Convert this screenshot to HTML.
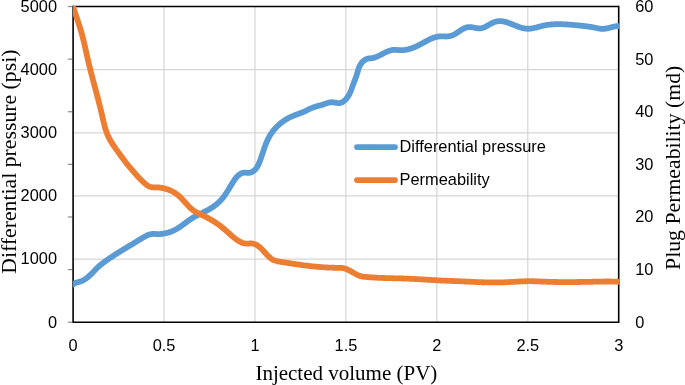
<!DOCTYPE html>
<html><head><meta charset="utf-8"><style>
html,body{margin:0;padding:0;background:#fff;}
svg{display:block;will-change:transform;}
.s{font-family:"Liberation Sans",sans-serif;font-size:16.4px;fill:#000;}
.t{font-family:"Liberation Serif",serif;fill:#000;}
</style></head><body>
<svg width="685" height="385" viewBox="0 0 685 385">

<g stroke="#d6d6d6" stroke-width="1.25"><line x1="73.1" y1="259.06" x2="618.7" y2="259.06"/><line x1="73.1" y1="195.92" x2="618.7" y2="195.92"/><line x1="73.1" y1="132.78" x2="618.7" y2="132.78"/><line x1="73.1" y1="69.64" x2="618.7" y2="69.64"/><line x1="164.03" y1="6.5" x2="164.03" y2="322.2"/><line x1="254.97" y1="6.5" x2="254.97" y2="322.2"/><line x1="345.90" y1="6.5" x2="345.90" y2="322.2"/><line x1="436.83" y1="6.5" x2="436.83" y2="322.2"/><line x1="527.77" y1="6.5" x2="527.77" y2="322.2"/></g>
<g stroke="#8c8c8c" stroke-width="1.2"><line x1="67.8" y1="322.20" x2="72.3" y2="322.20"/><line x1="67.8" y1="269.58" x2="72.3" y2="269.58"/><line x1="67.8" y1="216.97" x2="72.3" y2="216.97"/><line x1="67.8" y1="164.35" x2="72.3" y2="164.35"/><line x1="67.8" y1="111.73" x2="72.3" y2="111.73"/><line x1="67.8" y1="59.12" x2="72.3" y2="59.12"/><line x1="67.8" y1="6.50" x2="72.3" y2="6.50"/></g>
<g stroke="#000" stroke-width="1.6" fill="none">
<line x1="73.1" y1="6.5" x2="618.7" y2="6.5"/>
<line x1="73.1" y1="322.2" x2="618.7" y2="322.2"/>
<line x1="73.1" y1="5.7" x2="73.1" y2="323.0"/>
<line x1="618.7" y1="5.7" x2="618.7" y2="323.0"/>
</g>
<defs><clipPath id="pa"><rect x="72.9" y="6.0" width="546.9" height="316.6"/></clipPath></defs>
<g clip-path="url(#pa)" fill="none" stroke-width="5.8" stroke-linejoin="round" stroke-linecap="round">
<path d="M73.20 284.20 L73.75 283.85 L74.31 283.53 L74.87 283.26 L75.43 283.02 L75.99 282.80 L76.55 282.61 L77.11 282.43 L77.67 282.27 L78.23 282.12 L78.79 281.96 L79.35 281.81 L79.90 281.65 L80.46 281.48 L81.01 281.28 L81.56 281.07 L82.10 280.84 L82.64 280.58 L83.18 280.31 L83.71 280.01 L84.24 279.70 L84.77 279.37 L85.29 279.03 L85.80 278.68 L86.31 278.31 L86.81 277.93 L87.30 277.55 L87.79 277.15 L88.27 276.75 L88.74 276.34 L89.20 275.93 L89.66 275.52 L90.10 275.10 L90.54 274.69 L90.97 274.27 L91.39 273.86 L91.80 273.44 L92.21 273.03 L92.61 272.61 L93.01 272.20 L93.41 271.79 L93.80 271.37 L94.19 270.96 L94.58 270.55 L94.97 270.14 L95.36 269.73 L95.76 269.33 L96.16 268.92 L96.56 268.51 L96.96 268.11 L97.37 267.71 L97.79 267.31 L98.22 266.91 L98.65 266.51 L99.09 266.12 L99.55 265.73 L100.01 265.34 L100.48 264.95 L100.96 264.56 L101.45 264.18 L101.94 263.80 L102.43 263.42 L102.93 263.04 L103.43 262.67 L103.93 262.30 L104.43 261.93 L104.93 261.56 L105.43 261.20 L105.93 260.84 L106.43 260.49 L106.93 260.13 L107.43 259.78 L107.93 259.43 L108.43 259.09 L108.93 258.74 L109.43 258.40 L109.92 258.06 L110.42 257.72 L110.92 257.39 L111.42 257.05 L111.92 256.72 L112.42 256.39 L112.91 256.06 L113.41 255.74 L113.91 255.41 L114.41 255.09 L114.91 254.77 L115.41 254.45 L115.91 254.13 L116.41 253.81 L116.90 253.49 L117.40 253.18 L117.90 252.86 L118.40 252.55 L118.90 252.24 L119.40 251.93 L119.91 251.62 L120.41 251.31 L120.91 251.00 L121.41 250.69 L121.91 250.39 L122.41 250.08 L122.92 249.77 L123.42 249.47 L123.92 249.16 L124.43 248.86 L124.93 248.55 L125.44 248.25 L125.94 247.94 L126.45 247.64 L126.96 247.34 L127.47 247.03 L127.97 246.73 L128.48 246.42 L128.99 246.12 L129.50 245.81 L130.01 245.50 L130.53 245.20 L131.04 244.89 L131.55 244.58 L132.07 244.27 L132.58 243.96 L133.10 243.65 L133.61 243.34 L134.13 243.03 L134.65 242.72 L135.17 242.40 L135.69 242.09 L136.21 241.77 L136.73 241.45 L137.25 241.13 L137.78 240.81 L138.30 240.49 L138.83 240.16 L139.35 239.84 L139.88 239.51 L140.41 239.18 L140.94 238.85 L141.47 238.52 L142.01 238.19 L142.54 237.87 L143.08 237.55 L143.61 237.23 L144.15 236.92 L144.69 236.62 L145.23 236.33 L145.78 236.05 L146.32 235.78 L146.87 235.52 L147.41 235.28 L147.96 235.05 L148.52 234.84 L149.07 234.65 L149.62 234.48 L150.18 234.32 L150.74 234.19 L151.30 234.09 L151.87 234.01 L152.43 233.95 L153.00 233.92 L153.57 233.91 L154.14 233.91 L154.72 233.94 L155.30 233.96 L155.88 234.00 L156.46 234.03 L157.04 234.06 L157.63 234.08 L158.22 234.09 L158.81 234.08 L159.41 234.07 L160.01 234.04 L160.60 234.00 L161.20 233.95 L161.80 233.88 L162.40 233.81 L163.00 233.72 L163.60 233.63 L164.20 233.52 L164.80 233.41 L165.40 233.28 L166.00 233.14 L166.60 233.00 L167.19 232.84 L167.78 232.68 L168.37 232.51 L168.96 232.32 L169.54 232.13 L170.12 231.93 L170.70 231.73 L171.27 231.51 L171.84 231.29 L172.41 231.05 L172.96 230.81 L173.52 230.56 L174.07 230.30 L174.61 230.04 L175.15 229.76 L175.68 229.48 L176.21 229.19 L176.73 228.89 L177.25 228.59 L177.76 228.28 L178.27 227.96 L178.78 227.64 L179.28 227.32 L179.78 226.99 L180.28 226.65 L180.77 226.31 L181.26 225.97 L181.75 225.62 L182.24 225.28 L182.72 224.93 L183.20 224.57 L183.69 224.22 L184.17 223.87 L184.65 223.51 L185.13 223.15 L185.61 222.80 L186.09 222.44 L186.57 222.09 L187.05 221.73 L187.53 221.38 L188.01 221.03 L188.50 220.68 L188.98 220.33 L189.47 219.99 L189.96 219.65 L190.45 219.32 L190.95 218.98 L191.45 218.66 L191.95 218.33 L192.45 218.02 L192.96 217.71 L193.47 217.40 L193.98 217.10 L194.50 216.81 L195.02 216.52 L195.55 216.23 L196.07 215.95 L196.60 215.67 L197.13 215.40 L197.67 215.12 L198.20 214.85 L198.74 214.59 L199.28 214.32 L199.81 214.06 L200.35 213.79 L200.89 213.53 L201.43 213.27 L201.98 213.01 L202.52 212.74 L203.06 212.48 L203.60 212.22 L204.14 211.95 L204.68 211.69 L205.21 211.42 L205.75 211.14 L206.28 210.87 L206.82 210.59 L207.35 210.31 L207.88 210.03 L208.40 209.74 L208.93 209.44 L209.45 209.15 L209.97 208.84 L210.48 208.53 L210.99 208.22 L211.50 207.90 L212.01 207.57 L212.51 207.24 L213.01 206.90 L213.50 206.56 L213.99 206.21 L214.47 205.85 L214.95 205.49 L215.43 205.13 L215.90 204.76 L216.36 204.38 L216.82 204.00 L217.28 203.61 L217.73 203.22 L218.17 202.82 L218.61 202.41 L219.05 202.00 L219.47 201.59 L219.90 201.17 L220.31 200.74 L220.72 200.31 L221.12 199.87 L221.52 199.43 L221.91 198.98 L222.30 198.53 L222.67 198.07 L223.04 197.60 L223.41 197.13 L223.77 196.66 L224.13 196.18 L224.48 195.70 L224.83 195.22 L225.17 194.73 L225.51 194.24 L225.84 193.74 L226.18 193.24 L226.50 192.74 L226.83 192.23 L227.15 191.72 L227.48 191.21 L227.79 190.70 L228.11 190.19 L228.43 189.67 L228.74 189.16 L229.06 188.64 L229.37 188.12 L229.68 187.60 L229.99 187.08 L230.30 186.57 L230.61 186.05 L230.92 185.53 L231.23 185.02 L231.55 184.50 L231.86 183.99 L232.17 183.48 L232.49 182.97 L232.80 182.47 L233.12 181.97 L233.44 181.47 L233.76 180.98 L234.09 180.49 L234.41 180.00 L234.75 179.52 L235.08 179.04 L235.43 178.57 L235.79 178.11 L236.16 177.65 L236.54 177.20 L236.94 176.75 L237.36 176.31 L237.79 175.88 L238.25 175.45 L238.73 175.04 L239.23 174.64 L239.74 174.27 L240.27 173.92 L240.82 173.60 L241.38 173.32 L241.95 173.09 L242.53 172.90 L243.12 172.77 L243.72 172.70 L244.32 172.67 L244.92 172.68 L245.53 172.72 L246.13 172.76 L246.74 172.81 L247.34 172.85 L247.93 172.87 L248.52 172.85 L249.10 172.80 L249.68 172.72 L250.24 172.60 L250.78 172.45 L251.32 172.26 L251.84 172.05 L252.33 171.80 L252.82 171.53 L253.28 171.23 L253.72 170.91 L254.15 170.56 L254.57 170.19 L254.96 169.79 L255.35 169.38 L255.72 168.94 L256.07 168.49 L256.41 168.02 L256.74 167.53 L257.06 167.03 L257.37 166.51 L257.67 165.98 L257.95 165.44 L258.23 164.89 L258.50 164.33 L258.76 163.77 L259.01 163.19 L259.25 162.61 L259.49 162.03 L259.73 161.44 L259.95 160.85 L260.18 160.26 L260.39 159.68 L260.61 159.09 L260.82 158.50 L261.03 157.91 L261.23 157.33 L261.44 156.75 L261.64 156.16 L261.84 155.58 L262.03 155.00 L262.23 154.42 L262.42 153.84 L262.61 153.27 L262.81 152.69 L263.00 152.12 L263.19 151.55 L263.38 150.98 L263.57 150.41 L263.76 149.84 L263.95 149.27 L264.15 148.71 L264.34 148.15 L264.54 147.59 L264.73 147.03 L264.93 146.47 L265.14 145.92 L265.34 145.37 L265.55 144.82 L265.76 144.27 L265.97 143.72 L266.19 143.18 L266.41 142.64 L266.64 142.10 L266.87 141.56 L267.10 141.02 L267.34 140.49 L267.58 139.96 L267.83 139.43 L268.09 138.91 L268.35 138.39 L268.62 137.87 L268.89 137.35 L269.17 136.84 L269.46 136.32 L269.75 135.82 L270.06 135.31 L270.37 134.81 L270.68 134.31 L271.01 133.81 L271.34 133.32 L271.69 132.82 L272.04 132.34 L272.39 131.85 L272.76 131.37 L273.13 130.90 L273.51 130.42 L273.89 129.96 L274.28 129.49 L274.68 129.03 L275.09 128.57 L275.50 128.12 L275.91 127.68 L276.34 127.23 L276.77 126.80 L277.20 126.36 L277.64 125.94 L278.08 125.52 L278.54 125.10 L278.99 124.69 L279.45 124.28 L279.92 123.88 L280.38 123.49 L280.86 123.10 L281.34 122.72 L281.82 122.34 L282.31 121.97 L282.80 121.61 L283.29 121.25 L283.79 120.90 L284.29 120.55 L284.79 120.22 L285.30 119.89 L285.81 119.57 L286.32 119.25 L286.83 118.94 L287.35 118.64 L287.87 118.35 L288.39 118.06 L288.92 117.79 L289.44 117.52 L289.97 117.25 L290.50 117.00 L291.03 116.76 L291.56 116.52 L292.09 116.29 L292.63 116.06 L293.16 115.84 L293.70 115.62 L294.24 115.41 L294.78 115.20 L295.32 115.00 L295.86 114.79 L296.40 114.59 L296.95 114.39 L297.49 114.19 L298.04 113.99 L298.59 113.79 L299.14 113.59 L299.69 113.38 L300.24 113.17 L300.79 112.96 L301.34 112.75 L301.89 112.53 L302.45 112.30 L303.00 112.07 L303.56 111.84 L304.12 111.60 L304.67 111.34 L305.23 111.09 L305.79 110.82 L306.35 110.55 L306.91 110.27 L307.47 109.99 L308.03 109.72 L308.60 109.44 L309.16 109.17 L309.72 108.90 L310.28 108.63 L310.85 108.38 L311.41 108.14 L311.98 107.91 L312.54 107.68 L313.11 107.47 L313.67 107.27 L314.24 107.08 L314.81 106.90 L315.37 106.72 L315.94 106.55 L316.51 106.39 L317.08 106.22 L317.65 106.07 L318.22 105.91 L318.79 105.75 L319.36 105.60 L319.93 105.44 L320.51 105.28 L321.08 105.12 L321.66 104.96 L322.23 104.79 L322.81 104.62 L323.39 104.44 L323.96 104.25 L324.54 104.05 L325.12 103.85 L325.71 103.64 L326.29 103.43 L326.87 103.22 L327.46 103.03 L328.04 102.84 L328.63 102.67 L329.22 102.53 L329.81 102.41 L330.40 102.31 L330.99 102.26 L331.58 102.24 L332.17 102.26 L332.77 102.30 L333.36 102.37 L333.96 102.46 L334.55 102.56 L335.14 102.67 L335.73 102.77 L336.31 102.87 L336.89 102.96 L337.47 103.04 L338.04 103.09 L338.61 103.11 L339.17 103.10 L339.72 103.05 L340.27 102.95 L340.81 102.81 L341.34 102.62 L341.87 102.40 L342.38 102.13 L342.89 101.83 L343.38 101.50 L343.87 101.14 L344.34 100.75 L344.80 100.34 L345.25 99.90 L345.69 99.45 L346.11 98.97 L346.52 98.49 L346.91 97.99 L347.29 97.48 L347.65 96.96 L348.00 96.44 L348.33 95.92 L348.65 95.40 L348.95 94.87 L349.23 94.34 L349.51 93.81 L349.77 93.27 L350.03 92.74 L350.27 92.20 L350.50 91.66 L350.73 91.11 L350.95 90.57 L351.16 90.02 L351.37 89.47 L351.58 88.92 L351.78 88.37 L351.97 87.81 L352.17 87.26 L352.37 86.70 L352.56 86.14 L352.76 85.58 L352.96 85.02 L353.16 84.46 L353.37 83.89 L353.58 83.33 L353.79 82.76 L354.01 82.19 L354.23 81.62 L354.45 81.06 L354.67 80.49 L354.89 79.92 L355.11 79.35 L355.32 78.77 L355.54 78.20 L355.75 77.63 L355.95 77.06 L356.16 76.49 L356.35 75.92 L356.55 75.35 L356.73 74.78 L356.91 74.21 L357.08 73.64 L357.25 73.07 L357.42 72.50 L357.58 71.93 L357.75 71.37 L357.92 70.80 L358.09 70.24 L358.27 69.67 L358.46 69.11 L358.65 68.55 L358.86 67.99 L359.08 67.44 L359.32 66.88 L359.57 66.33 L359.84 65.78 L360.12 65.24 L360.42 64.71 L360.74 64.19 L361.07 63.68 L361.42 63.19 L361.79 62.70 L362.18 62.24 L362.58 61.79 L363.00 61.36 L363.45 60.96 L363.91 60.58 L364.39 60.22 L364.89 59.89 L365.41 59.58 L365.94 59.31 L366.49 59.06 L367.04 58.85 L367.60 58.68 L368.15 58.54 L368.71 58.43 L369.27 58.36 L369.82 58.31 L370.38 58.27 L370.93 58.24 L371.48 58.20 L372.04 58.14 L372.59 58.06 L373.14 57.95 L373.69 57.82 L374.24 57.66 L374.79 57.47 L375.34 57.27 L375.89 57.06 L376.45 56.83 L377.00 56.59 L377.55 56.34 L378.11 56.09 L378.66 55.84 L379.22 55.57 L379.78 55.30 L380.34 55.03 L380.90 54.75 L381.47 54.47 L382.04 54.18 L382.60 53.89 L383.18 53.60 L383.75 53.30 L384.32 53.01 L384.90 52.72 L385.48 52.44 L386.06 52.16 L386.64 51.89 L387.22 51.63 L387.80 51.38 L388.39 51.14 L388.97 50.92 L389.56 50.71 L390.14 50.52 L390.73 50.36 L391.32 50.21 L391.90 50.08 L392.49 49.98 L393.08 49.90 L393.67 49.85 L394.25 49.83 L394.84 49.82 L395.42 49.84 L396.01 49.86 L396.59 49.90 L397.18 49.95 L397.76 50.00 L398.34 50.05 L398.92 50.09 L399.50 50.14 L400.08 50.17 L400.65 50.19 L401.23 50.19 L401.80 50.19 L402.37 50.17 L402.94 50.14 L403.51 50.10 L404.07 50.04 L404.64 49.98 L405.20 49.90 L405.77 49.81 L406.33 49.72 L406.89 49.61 L407.45 49.49 L408.01 49.36 L408.56 49.22 L409.12 49.07 L409.68 48.91 L410.23 48.74 L410.78 48.57 L411.34 48.38 L411.89 48.19 L412.44 47.99 L412.99 47.78 L413.54 47.57 L414.10 47.34 L414.64 47.11 L415.19 46.88 L415.74 46.63 L416.29 46.38 L416.84 46.13 L417.39 45.86 L417.94 45.60 L418.49 45.32 L419.03 45.05 L419.58 44.76 L420.13 44.47 L420.68 44.18 L421.23 43.89 L421.77 43.59 L422.32 43.29 L422.87 42.99 L423.42 42.69 L423.97 42.38 L424.52 42.08 L425.07 41.78 L425.62 41.48 L426.17 41.18 L426.73 40.89 L427.28 40.60 L427.83 40.31 L428.39 40.03 L428.94 39.75 L429.50 39.48 L430.06 39.22 L430.61 38.97 L431.17 38.72 L431.73 38.48 L432.29 38.25 L432.86 38.03 L433.42 37.82 L433.99 37.62 L434.55 37.43 L435.12 37.26 L435.69 37.10 L436.26 36.95 L436.83 36.82 L437.40 36.70 L437.98 36.60 L438.55 36.51 L439.13 36.44 L439.71 36.39 L440.29 36.36 L440.88 36.34 L441.46 36.34 L442.05 36.35 L442.64 36.37 L443.22 36.40 L443.81 36.42 L444.40 36.45 L444.98 36.47 L445.57 36.48 L446.15 36.48 L446.73 36.47 L447.31 36.44 L447.89 36.39 L448.47 36.32 L449.04 36.23 L449.61 36.13 L450.18 36.00 L450.74 35.85 L451.30 35.68 L451.85 35.50 L452.40 35.29 L452.94 35.07 L453.48 34.82 L454.01 34.56 L454.54 34.28 L455.06 33.99 L455.58 33.68 L456.10 33.36 L456.61 33.03 L457.13 32.69 L457.64 32.35 L458.16 32.00 L458.68 31.65 L459.20 31.29 L459.73 30.94 L460.26 30.58 L460.80 30.23 L461.34 29.89 L461.89 29.56 L462.44 29.23 L462.99 28.92 L463.55 28.63 L464.11 28.35 L464.68 28.10 L465.24 27.86 L465.81 27.66 L466.39 27.48 L466.96 27.33 L467.54 27.21 L468.11 27.13 L468.69 27.08 L469.27 27.06 L469.85 27.07 L470.43 27.10 L471.02 27.15 L471.60 27.22 L472.18 27.30 L472.76 27.40 L473.33 27.50 L473.91 27.61 L474.49 27.73 L475.06 27.84 L475.63 27.95 L476.20 28.06 L476.77 28.15 L477.34 28.24 L477.90 28.30 L478.47 28.35 L479.03 28.38 L479.60 28.38 L480.16 28.35 L480.72 28.29 L481.29 28.20 L481.85 28.08 L482.42 27.92 L482.98 27.74 L483.54 27.54 L484.11 27.31 L484.67 27.06 L485.24 26.80 L485.80 26.52 L486.37 26.23 L486.93 25.93 L487.50 25.62 L488.06 25.30 L488.63 24.98 L489.19 24.66 L489.76 24.34 L490.32 24.03 L490.89 23.72 L491.45 23.42 L492.02 23.13 L492.58 22.85 L493.15 22.59 L493.72 22.35 L494.28 22.12 L494.85 21.92 L495.42 21.74 L495.98 21.59 L496.55 21.46 L497.12 21.35 L497.68 21.26 L498.25 21.20 L498.82 21.15 L499.39 21.13 L499.96 21.13 L500.52 21.14 L501.09 21.17 L501.66 21.22 L502.23 21.29 L502.80 21.37 L503.37 21.47 L503.94 21.58 L504.51 21.70 L505.08 21.84 L505.65 21.99 L506.22 22.15 L506.79 22.32 L507.36 22.51 L507.93 22.70 L508.50 22.89 L509.07 23.10 L509.65 23.31 L510.22 23.53 L510.79 23.75 L511.36 23.97 L511.94 24.20 L512.51 24.43 L513.08 24.67 L513.66 24.90 L514.23 25.14 L514.81 25.37 L515.38 25.60 L515.96 25.83 L516.53 26.06 L517.11 26.28 L517.68 26.50 L518.26 26.71 L518.84 26.92 L519.41 27.12 L519.99 27.31 L520.57 27.50 L521.15 27.67 L521.72 27.84 L522.30 27.99 L522.88 28.13 L523.46 28.26 L524.04 28.38 L524.62 28.48 L525.20 28.57 L525.78 28.64 L526.36 28.69 L526.95 28.73 L527.53 28.75 L528.11 28.76 L528.69 28.74 L529.28 28.71 L529.86 28.67 L530.44 28.61 L531.03 28.54 L531.61 28.46 L532.20 28.37 L532.78 28.26 L533.37 28.15 L533.95 28.03 L534.54 27.90 L535.13 27.76 L535.71 27.62 L536.30 27.47 L536.89 27.32 L537.48 27.17 L538.06 27.01 L538.65 26.86 L539.24 26.70 L539.83 26.54 L540.42 26.39 L541.01 26.23 L541.60 26.08 L542.19 25.93 L542.78 25.79 L543.37 25.66 L543.96 25.53 L544.55 25.40 L545.14 25.29 L545.73 25.18 L546.33 25.08 L546.92 24.99 L547.51 24.90 L548.10 24.81 L548.69 24.74 L549.29 24.67 L549.88 24.60 L550.47 24.54 L551.07 24.49 L551.66 24.44 L552.26 24.39 L552.85 24.35 L553.44 24.32 L554.04 24.28 L554.63 24.26 L555.23 24.23 L555.82 24.21 L556.42 24.20 L557.01 24.19 L557.61 24.18 L558.20 24.17 L558.80 24.17 L559.39 24.17 L559.99 24.18 L560.59 24.19 L561.18 24.20 L561.78 24.21 L562.38 24.23 L562.97 24.25 L563.57 24.28 L564.16 24.30 L564.76 24.33 L565.36 24.36 L565.96 24.39 L566.55 24.43 L567.15 24.46 L567.75 24.50 L568.34 24.54 L568.94 24.59 L569.54 24.63 L570.14 24.68 L570.73 24.73 L571.33 24.77 L571.93 24.83 L572.53 24.88 L573.12 24.93 L573.72 24.98 L574.32 25.04 L574.92 25.09 L575.51 25.15 L576.11 25.21 L576.71 25.26 L577.31 25.32 L577.90 25.38 L578.50 25.44 L579.10 25.50 L579.69 25.56 L580.29 25.62 L580.89 25.68 L581.49 25.74 L582.08 25.80 L582.68 25.87 L583.28 25.93 L583.88 26.00 L584.47 26.07 L585.07 26.14 L585.67 26.21 L586.26 26.29 L586.86 26.37 L587.46 26.45 L588.05 26.53 L588.65 26.61 L589.25 26.70 L589.84 26.79 L590.44 26.88 L591.03 26.98 L591.63 27.08 L592.23 27.18 L592.82 27.29 L593.42 27.40 L594.01 27.51 L594.61 27.63 L595.20 27.75 L595.80 27.88 L596.39 28.01 L596.99 28.13 L597.58 28.25 L598.18 28.37 L598.77 28.48 L599.36 28.58 L599.96 28.67 L600.55 28.75 L601.14 28.81 L601.74 28.85 L602.33 28.87 L602.92 28.87 L603.51 28.85 L604.11 28.81 L604.70 28.75 L605.29 28.67 L605.88 28.58 L606.47 28.47 L607.06 28.35 L607.65 28.22 L608.25 28.08 L608.84 27.93 L609.43 27.78 L610.01 27.63 L610.60 27.47 L611.19 27.32 L611.78 27.16 L612.37 27.01 L612.96 26.87 L613.55 26.73 L614.14 26.59 L614.72 26.47 L615.31 26.36 L615.90 26.26 L616.48 26.18 L617.07 26.12 L617.65 26.07 L618.24 26.04 L618.83 26.04 L619.41 26.06 L619.99 26.10" stroke="#5b9bd5"/>
<path d="M73.00 6.30 L73.17 6.87 L73.35 7.44 L73.53 8.01 L73.71 8.58 L73.89 9.15 L74.07 9.72 L74.26 10.29 L74.44 10.86 L74.63 11.43 L74.82 12.00 L75.01 12.57 L75.20 13.14 L75.39 13.71 L75.58 14.28 L75.77 14.85 L75.96 15.43 L76.15 16.00 L76.34 16.57 L76.54 17.14 L76.73 17.72 L76.92 18.29 L77.11 18.86 L77.31 19.43 L77.50 20.01 L77.69 20.58 L77.88 21.15 L78.07 21.73 L78.26 22.30 L78.45 22.88 L78.64 23.45 L78.83 24.02 L79.01 24.60 L79.20 25.17 L79.38 25.75 L79.57 26.32 L79.75 26.90 L79.93 27.47 L80.11 28.05 L80.29 28.62 L80.46 29.20 L80.64 29.77 L80.81 30.35 L80.98 30.93 L81.14 31.50 L81.31 32.08 L81.47 32.65 L81.64 33.23 L81.80 33.81 L81.95 34.38 L82.11 34.96 L82.26 35.54 L82.42 36.12 L82.57 36.69 L82.72 37.27 L82.86 37.85 L83.01 38.43 L83.15 39.00 L83.30 39.58 L83.44 40.16 L83.58 40.74 L83.72 41.32 L83.86 41.89 L84.00 42.47 L84.13 43.05 L84.27 43.63 L84.40 44.21 L84.54 44.79 L84.67 45.37 L84.80 45.95 L84.93 46.52 L85.07 47.10 L85.20 47.68 L85.33 48.26 L85.46 48.84 L85.59 49.42 L85.71 50.00 L85.84 50.58 L85.97 51.16 L86.10 51.74 L86.23 52.32 L86.36 52.90 L86.49 53.48 L86.62 54.06 L86.75 54.64 L86.88 55.22 L87.01 55.81 L87.14 56.39 L87.27 56.97 L87.40 57.55 L87.53 58.13 L87.66 58.71 L87.80 59.29 L87.93 59.87 L88.06 60.45 L88.20 61.04 L88.34 61.62 L88.47 62.20 L88.61 62.78 L88.75 63.36 L88.89 63.94 L89.03 64.53 L89.17 65.11 L89.31 65.69 L89.46 66.27 L89.60 66.85 L89.75 67.44 L89.89 68.02 L90.04 68.60 L90.18 69.18 L90.33 69.77 L90.48 70.35 L90.62 70.93 L90.77 71.51 L90.92 72.10 L91.07 72.68 L91.22 73.26 L91.37 73.85 L91.52 74.43 L91.67 75.01 L91.83 75.59 L91.98 76.18 L92.13 76.76 L92.28 77.34 L92.44 77.93 L92.59 78.51 L92.75 79.09 L92.90 79.68 L93.05 80.26 L93.21 80.84 L93.36 81.43 L93.52 82.01 L93.67 82.59 L93.83 83.18 L93.99 83.76 L94.14 84.34 L94.30 84.93 L94.45 85.51 L94.61 86.09 L94.77 86.68 L94.92 87.26 L95.08 87.84 L95.23 88.43 L95.39 89.01 L95.55 89.60 L95.70 90.18 L95.86 90.76 L96.01 91.35 L96.17 91.93 L96.32 92.51 L96.48 93.10 L96.63 93.68 L96.79 94.27 L96.94 94.85 L97.10 95.43 L97.25 96.02 L97.41 96.60 L97.56 97.18 L97.71 97.77 L97.87 98.35 L98.02 98.94 L98.17 99.52 L98.32 100.10 L98.47 100.69 L98.62 101.27 L98.78 101.85 L98.93 102.44 L99.07 103.02 L99.22 103.61 L99.37 104.19 L99.52 104.77 L99.67 105.36 L99.81 105.94 L99.96 106.52 L100.10 107.11 L100.25 107.69 L100.39 108.27 L100.54 108.86 L100.68 109.44 L100.82 110.02 L100.96 110.61 L101.10 111.19 L101.24 111.78 L101.38 112.36 L101.52 112.94 L101.66 113.53 L101.79 114.11 L101.93 114.69 L102.06 115.28 L102.19 115.86 L102.33 116.44 L102.46 117.02 L102.59 117.61 L102.72 118.19 L102.86 118.77 L102.99 119.35 L103.12 119.93 L103.26 120.51 L103.39 121.09 L103.53 121.67 L103.67 122.25 L103.81 122.83 L103.95 123.41 L104.09 123.98 L104.24 124.56 L104.38 125.13 L104.54 125.70 L104.69 126.28 L104.85 126.85 L105.01 127.42 L105.17 127.98 L105.34 128.55 L105.51 129.12 L105.69 129.68 L105.87 130.24 L106.06 130.80 L106.25 131.36 L106.44 131.92 L106.64 132.47 L106.85 133.03 L107.06 133.58 L107.28 134.13 L107.50 134.67 L107.74 135.22 L107.97 135.76 L108.22 136.30 L108.47 136.84 L108.73 137.38 L108.99 137.91 L109.26 138.44 L109.54 138.97 L109.83 139.50 L110.12 140.02 L110.41 140.54 L110.71 141.07 L111.02 141.58 L111.33 142.10 L111.64 142.62 L111.96 143.13 L112.29 143.64 L112.62 144.15 L112.95 144.66 L113.28 145.17 L113.62 145.67 L113.96 146.17 L114.31 146.68 L114.65 147.18 L115.00 147.68 L115.35 148.17 L115.71 148.67 L116.06 149.17 L116.42 149.66 L116.77 150.15 L117.13 150.65 L117.49 151.14 L117.84 151.63 L118.20 152.12 L118.56 152.60 L118.92 153.09 L119.27 153.58 L119.63 154.06 L119.98 154.55 L120.34 155.03 L120.69 155.52 L121.04 156.00 L121.39 156.48 L121.74 156.96 L122.09 157.44 L122.45 157.92 L122.80 158.40 L123.15 158.88 L123.50 159.36 L123.85 159.84 L124.21 160.31 L124.57 160.79 L124.92 161.26 L125.28 161.73 L125.64 162.21 L126.01 162.68 L126.37 163.15 L126.74 163.62 L127.12 164.08 L127.49 164.55 L127.87 165.02 L128.25 165.48 L128.64 165.95 L129.02 166.41 L129.42 166.87 L129.81 167.33 L130.20 167.79 L130.60 168.25 L131.00 168.71 L131.39 169.17 L131.79 169.62 L132.19 170.08 L132.58 170.53 L132.97 170.98 L133.36 171.43 L133.75 171.88 L134.14 172.33 L134.53 172.78 L134.92 173.22 L135.30 173.67 L135.69 174.11 L136.08 174.55 L136.47 174.99 L136.86 175.43 L137.25 175.87 L137.65 176.30 L138.04 176.74 L138.44 177.17 L138.84 177.60 L139.25 178.03 L139.65 178.46 L140.07 178.89 L140.48 179.32 L140.90 179.74 L141.33 180.17 L141.76 180.59 L142.20 181.01 L142.64 181.43 L143.09 181.84 L143.54 182.26 L144.00 182.67 L144.47 183.08 L144.95 183.49 L145.43 183.90 L145.92 184.30 L146.42 184.69 L146.92 185.07 L147.43 185.43 L147.95 185.77 L148.47 186.08 L149.00 186.37 L149.54 186.62 L150.08 186.84 L150.62 187.02 L151.17 187.15 L151.72 187.25 L152.28 187.31 L152.84 187.35 L153.41 187.36 L153.98 187.36 L154.55 187.35 L155.13 187.34 L155.70 187.32 L156.28 187.32 L156.87 187.33 L157.45 187.35 L158.04 187.39 L158.62 187.44 L159.21 187.50 L159.80 187.57 L160.39 187.66 L160.98 187.75 L161.57 187.85 L162.16 187.96 L162.75 188.08 L163.34 188.21 L163.93 188.35 L164.51 188.49 L165.10 188.65 L165.68 188.81 L166.26 188.98 L166.84 189.17 L167.42 189.36 L167.99 189.56 L168.56 189.77 L169.13 189.98 L169.69 190.21 L170.25 190.45 L170.80 190.69 L171.36 190.95 L171.90 191.22 L172.44 191.49 L172.98 191.77 L173.51 192.07 L174.04 192.37 L174.56 192.68 L175.07 193.01 L175.58 193.34 L176.08 193.68 L176.57 194.03 L177.06 194.39 L177.54 194.76 L178.01 195.15 L178.47 195.54 L178.93 195.93 L179.38 196.34 L179.83 196.75 L180.27 197.18 L180.70 197.60 L181.13 198.03 L181.56 198.47 L181.98 198.91 L182.40 199.36 L182.82 199.81 L183.23 200.26 L183.64 200.71 L184.05 201.17 L184.46 201.62 L184.87 202.08 L185.27 202.53 L185.68 202.99 L186.08 203.44 L186.49 203.89 L186.90 204.34 L187.31 204.79 L187.72 205.23 L188.13 205.66 L188.55 206.10 L188.96 206.52 L189.39 206.94 L189.81 207.36 L190.24 207.76 L190.67 208.16 L191.11 208.55 L191.56 208.93 L192.01 209.31 L192.46 209.67 L192.92 210.02 L193.39 210.36 L193.87 210.69 L194.35 211.01 L194.84 211.32 L195.33 211.62 L195.83 211.91 L196.33 212.20 L196.84 212.48 L197.35 212.75 L197.87 213.02 L198.39 213.29 L198.91 213.55 L199.44 213.81 L199.97 214.07 L200.50 214.33 L201.04 214.58 L201.58 214.84 L202.12 215.09 L202.66 215.35 L203.20 215.61 L203.74 215.87 L204.28 216.14 L204.83 216.41 L205.37 216.68 L205.92 216.96 L206.46 217.24 L207.01 217.52 L207.55 217.81 L208.09 218.10 L208.63 218.40 L209.17 218.69 L209.71 219.00 L210.25 219.30 L210.79 219.61 L211.32 219.92 L211.86 220.24 L212.39 220.56 L212.92 220.88 L213.44 221.20 L213.97 221.53 L214.49 221.86 L215.00 222.19 L215.52 222.53 L216.03 222.86 L216.54 223.20 L217.04 223.55 L217.54 223.89 L218.04 224.24 L218.53 224.59 L219.02 224.94 L219.50 225.30 L219.98 225.65 L220.45 226.01 L220.92 226.37 L221.38 226.74 L221.84 227.10 L222.29 227.47 L222.74 227.83 L223.19 228.20 L223.62 228.58 L224.06 228.95 L224.49 229.32 L224.93 229.70 L225.35 230.08 L225.78 230.45 L226.21 230.83 L226.63 231.21 L227.06 231.59 L227.48 231.98 L227.91 232.36 L228.34 232.75 L228.77 233.13 L229.20 233.52 L229.63 233.90 L230.07 234.29 L230.51 234.68 L230.95 235.07 L231.40 235.46 L231.85 235.85 L232.31 236.24 L232.77 236.63 L233.24 237.02 L233.72 237.41 L234.20 237.80 L234.69 238.18 L235.19 238.57 L235.69 238.95 L236.20 239.33 L236.71 239.69 L237.23 240.05 L237.75 240.40 L238.28 240.74 L238.82 241.07 L239.36 241.39 L239.90 241.68 L240.45 241.97 L241.00 242.23 L241.56 242.48 L242.12 242.71 L242.68 242.91 L243.25 243.09 L243.82 243.25 L244.39 243.39 L244.97 243.49 L245.55 243.57 L246.13 243.62 L246.71 243.64 L247.29 243.63 L247.88 243.60 L248.47 243.56 L249.05 243.52 L249.64 243.47 L250.22 243.44 L250.80 243.42 L251.38 243.43 L251.96 243.47 L252.53 243.54 L253.10 243.64 L253.66 243.77 L254.21 243.94 L254.76 244.13 L255.30 244.34 L255.83 244.58 L256.36 244.85 L256.87 245.14 L257.38 245.45 L257.87 245.77 L258.36 246.12 L258.84 246.49 L259.32 246.87 L259.78 247.26 L260.25 247.67 L260.70 248.09 L261.15 248.53 L261.60 248.97 L262.04 249.42 L262.47 249.88 L262.91 250.34 L263.34 250.81 L263.77 251.28 L264.19 251.76 L264.62 252.24 L265.05 252.71 L265.47 253.18 L265.90 253.66 L266.32 254.12 L266.75 254.58 L267.18 255.04 L267.61 255.49 L268.04 255.92 L268.48 256.35 L268.92 256.77 L269.37 257.17 L269.82 257.56 L270.27 257.93 L270.73 258.28 L271.20 258.62 L271.67 258.94 L272.15 259.24 L272.64 259.51 L273.14 259.77 L273.64 260.00 L274.15 260.22 L274.67 260.42 L275.19 260.61 L275.72 260.78 L276.26 260.93 L276.80 261.08 L277.35 261.21 L277.90 261.33 L278.46 261.45 L279.02 261.55 L279.59 261.65 L280.16 261.75 L280.74 261.84 L281.32 261.93 L281.90 262.02 L282.49 262.10 L283.08 262.19 L283.68 262.28 L284.27 262.37 L284.87 262.47 L285.47 262.56 L286.08 262.65 L286.68 262.75 L287.29 262.84 L287.90 262.94 L288.51 263.04 L289.12 263.13 L289.73 263.23 L290.34 263.33 L290.95 263.43 L291.57 263.52 L292.18 263.62 L292.79 263.71 L293.40 263.81 L294.01 263.90 L294.62 263.99 L295.23 264.08 L295.84 264.17 L296.45 264.26 L297.05 264.35 L297.66 264.44 L298.27 264.53 L298.88 264.62 L299.48 264.70 L300.09 264.79 L300.69 264.87 L301.30 264.95 L301.90 265.04 L302.51 265.12 L303.11 265.20 L303.71 265.28 L304.32 265.35 L304.92 265.43 L305.52 265.51 L306.12 265.58 L306.72 265.66 L307.32 265.73 L307.92 265.80 L308.52 265.87 L309.12 265.94 L309.72 266.01 L310.32 266.08 L310.92 266.15 L311.52 266.21 L312.12 266.28 L312.71 266.34 L313.31 266.40 L313.91 266.46 L314.50 266.52 L315.10 266.58 L315.69 266.64 L316.29 266.69 L316.88 266.75 L317.48 266.80 L318.07 266.85 L318.67 266.91 L319.26 266.96 L319.85 267.00 L320.45 267.05 L321.04 267.10 L321.63 267.14 L322.22 267.19 L322.81 267.23 L323.41 267.27 L324.00 267.31 L324.59 267.35 L325.18 267.38 L325.77 267.42 L326.36 267.45 L326.95 267.48 L327.54 267.52 L328.12 267.54 L328.71 267.57 L329.30 267.60 L329.89 267.62 L330.48 267.65 L331.07 267.67 L331.65 267.69 L332.24 267.71 L332.83 267.73 L333.41 267.74 L334.00 267.76 L334.59 267.77 L335.17 267.78 L335.76 267.79 L336.34 267.80 L336.93 267.81 L337.51 267.81 L338.10 267.82 L338.68 267.82 L339.27 267.82 L339.85 267.83 L340.43 267.85 L341.02 267.88 L341.60 267.92 L342.18 267.98 L342.76 268.06 L343.34 268.16 L343.92 268.29 L344.49 268.44 L345.07 268.62 L345.64 268.82 L346.21 269.03 L346.78 269.27 L347.35 269.52 L347.92 269.78 L348.48 270.05 L349.05 270.33 L349.61 270.62 L350.16 270.92 L350.72 271.23 L351.27 271.54 L351.82 271.85 L352.37 272.16 L352.91 272.47 L353.46 272.78 L354.00 273.09 L354.54 273.40 L355.08 273.70 L355.62 273.99 L356.16 274.27 L356.70 274.55 L357.25 274.82 L357.79 275.07 L358.34 275.31 L358.89 275.53 L359.44 275.74 L360.00 275.94 L360.56 276.11 L361.13 276.26 L361.70 276.40 L362.27 276.51 L362.85 276.61 L363.43 276.69 L364.02 276.77 L364.61 276.83 L365.19 276.89 L365.78 276.95 L366.37 277.00 L366.96 277.05 L367.55 277.10 L368.14 277.15 L368.73 277.20 L369.32 277.24 L369.92 277.29 L370.51 277.33 L371.10 277.37 L371.69 277.41 L372.28 277.45 L372.88 277.49 L373.47 277.53 L374.06 277.56 L374.66 277.60 L375.25 277.63 L375.84 277.66 L376.44 277.69 L377.03 277.72 L377.63 277.75 L378.22 277.78 L378.82 277.80 L379.41 277.83 L380.01 277.85 L380.60 277.88 L381.20 277.90 L381.80 277.92 L382.39 277.94 L382.99 277.97 L383.59 277.99 L384.18 278.01 L384.78 278.02 L385.38 278.04 L385.98 278.06 L386.57 278.08 L387.17 278.10 L387.77 278.11 L388.37 278.13 L388.97 278.15 L389.56 278.16 L390.16 278.18 L390.76 278.19 L391.36 278.21 L391.96 278.22 L392.56 278.24 L393.16 278.25 L393.76 278.26 L394.36 278.28 L394.96 278.29 L395.55 278.31 L396.15 278.32 L396.75 278.34 L397.35 278.35 L397.95 278.37 L398.55 278.38 L399.15 278.40 L399.75 278.41 L400.35 278.43 L400.95 278.45 L401.55 278.46 L402.16 278.48 L402.76 278.50 L403.36 278.51 L403.96 278.53 L404.56 278.55 L405.16 278.57 L405.76 278.59 L406.36 278.61 L406.96 278.64 L407.56 278.66 L408.16 278.68 L408.76 278.70 L409.36 278.73 L409.96 278.76 L410.56 278.78 L411.16 278.81 L411.76 278.84 L412.36 278.87 L412.96 278.90 L413.56 278.93 L414.16 278.96 L414.76 278.99 L415.36 279.02 L415.97 279.06 L416.57 279.09 L417.17 279.12 L417.77 279.16 L418.37 279.19 L418.97 279.23 L419.57 279.27 L420.17 279.30 L420.77 279.34 L421.37 279.38 L421.97 279.41 L422.57 279.45 L423.17 279.49 L423.77 279.52 L424.37 279.56 L424.97 279.60 L425.57 279.64 L426.17 279.67 L426.77 279.71 L427.37 279.75 L427.97 279.79 L428.57 279.82 L429.17 279.86 L429.77 279.90 L430.37 279.93 L430.97 279.97 L431.57 280.00 L432.17 280.04 L432.77 280.07 L433.37 280.11 L433.97 280.14 L434.57 280.18 L435.17 280.21 L435.77 280.24 L436.37 280.27 L436.97 280.30 L437.57 280.33 L438.17 280.36 L438.77 280.39 L439.37 280.42 L439.97 280.45 L440.56 280.48 L441.16 280.51 L441.76 280.53 L442.36 280.56 L442.96 280.59 L443.56 280.61 L444.16 280.64 L444.76 280.66 L445.36 280.69 L445.96 280.72 L446.56 280.74 L447.16 280.77 L447.76 280.79 L448.36 280.81 L448.96 280.84 L449.56 280.86 L450.16 280.89 L450.76 280.91 L451.36 280.93 L451.96 280.96 L452.56 280.98 L453.16 281.01 L453.76 281.03 L454.35 281.05 L454.95 281.08 L455.55 281.10 L456.15 281.13 L456.75 281.15 L457.35 281.17 L457.95 281.20 L458.55 281.22 L459.15 281.25 L459.75 281.27 L460.35 281.30 L460.95 281.32 L461.55 281.35 L462.15 281.38 L462.75 281.40 L463.35 281.43 L463.94 281.46 L464.54 281.48 L465.14 281.51 L465.74 281.54 L466.34 281.57 L466.94 281.60 L467.54 281.62 L468.14 281.65 L468.74 281.68 L469.34 281.71 L469.94 281.73 L470.54 281.76 L471.14 281.79 L471.73 281.82 L472.33 281.84 L472.93 281.87 L473.53 281.90 L474.13 281.92 L474.73 281.95 L475.33 281.98 L475.93 282.00 L476.53 282.03 L477.13 282.05 L477.73 282.07 L478.33 282.10 L478.92 282.12 L479.52 282.14 L480.12 282.17 L480.72 282.19 L481.32 282.21 L481.92 282.23 L482.52 282.25 L483.12 282.27 L483.72 282.29 L484.32 282.31 L484.92 282.32 L485.51 282.34 L486.11 282.36 L486.71 282.37 L487.31 282.38 L487.91 282.40 L488.51 282.41 L489.11 282.42 L489.71 282.43 L490.31 282.44 L490.91 282.45 L491.51 282.45 L492.10 282.46 L492.70 282.46 L493.30 282.47 L493.90 282.47 L494.50 282.47 L495.10 282.47 L495.70 282.47 L496.30 282.47 L496.90 282.46 L497.50 282.46 L498.09 282.45 L498.69 282.44 L499.29 282.43 L499.89 282.42 L500.49 282.41 L501.09 282.40 L501.69 282.38 L502.29 282.37 L502.89 282.35 L503.49 282.33 L504.08 282.30 L504.68 282.28 L505.28 282.26 L505.88 282.23 L506.48 282.20 L507.08 282.17 L507.68 282.14 L508.28 282.11 L508.88 282.08 L509.48 282.05 L510.07 282.02 L510.67 281.98 L511.27 281.95 L511.87 281.91 L512.47 281.88 L513.07 281.84 L513.67 281.81 L514.27 281.77 L514.87 281.74 L515.47 281.70 L516.06 281.67 L516.66 281.64 L517.26 281.60 L517.86 281.57 L518.46 281.54 L519.06 281.51 L519.66 281.48 L520.26 281.45 L520.86 281.42 L521.46 281.39 L522.05 281.37 L522.65 281.34 L523.25 281.32 L523.85 281.30 L524.45 281.28 L525.05 281.27 L525.65 281.25 L526.25 281.24 L526.85 281.23 L527.45 281.22 L528.04 281.22 L528.64 281.21 L529.24 281.21 L529.84 281.21 L530.44 281.22 L531.04 281.22 L531.64 281.23 L532.24 281.24 L532.84 281.25 L533.44 281.26 L534.03 281.27 L534.63 281.29 L535.23 281.31 L535.83 281.33 L536.43 281.34 L537.03 281.36 L537.63 281.39 L538.23 281.41 L538.83 281.43 L539.43 281.45 L540.03 281.48 L540.63 281.50 L541.22 281.53 L541.82 281.55 L542.42 281.58 L543.02 281.60 L543.62 281.62 L544.22 281.65 L544.82 281.67 L545.42 281.70 L546.02 281.72 L546.62 281.74 L547.22 281.77 L547.82 281.79 L548.41 281.81 L549.01 281.83 L549.61 281.85 L550.21 281.86 L550.81 281.88 L551.41 281.90 L552.01 281.91 L552.61 281.93 L553.21 281.94 L553.81 281.96 L554.41 281.97 L555.01 281.98 L555.61 281.99 L556.20 282.00 L556.80 282.01 L557.40 282.02 L558.00 282.03 L558.60 282.04 L559.20 282.05 L559.80 282.06 L560.40 282.06 L561.00 282.07 L561.60 282.07 L562.20 282.08 L562.80 282.08 L563.40 282.08 L564.00 282.09 L564.60 282.09 L565.20 282.09 L565.80 282.09 L566.39 282.09 L566.99 282.09 L567.59 282.09 L568.19 282.09 L568.79 282.09 L569.39 282.09 L569.99 282.08 L570.59 282.08 L571.19 282.08 L571.79 282.07 L572.39 282.07 L572.99 282.07 L573.59 282.06 L574.19 282.06 L574.79 282.05 L575.39 282.04 L575.99 282.04 L576.59 282.03 L577.19 282.02 L577.79 282.02 L578.39 282.01 L578.99 282.00 L579.59 281.99 L580.19 281.98 L580.79 281.97 L581.39 281.96 L581.98 281.96 L582.58 281.95 L583.18 281.94 L583.78 281.93 L584.38 281.91 L584.98 281.90 L585.58 281.89 L586.18 281.88 L586.78 281.87 L587.38 281.86 L587.98 281.85 L588.58 281.84 L589.18 281.82 L589.78 281.81 L590.38 281.80 L590.98 281.79 L591.58 281.77 L592.18 281.76 L592.78 281.75 L593.38 281.74 L593.98 281.72 L594.58 281.71 L595.18 281.70 L595.78 281.68 L596.38 281.67 L596.98 281.66 L597.58 281.64 L598.18 281.63 L598.78 281.62 L599.38 281.60 L599.98 281.59 L600.59 281.58 L601.19 281.57 L601.79 281.56 L602.39 281.55 L602.99 281.54 L603.59 281.53 L604.19 281.52 L604.79 281.52 L605.39 281.51 L605.99 281.51 L606.59 281.51 L607.19 281.50 L607.79 281.50 L608.39 281.50 L608.99 281.51 L609.59 281.51 L610.19 281.52 L610.79 281.52 L611.39 281.53 L611.99 281.55 L612.59 281.56 L613.19 281.57 L613.79 281.59 L614.40 281.61 L615.00 281.63 L615.60 281.66 L616.20 281.68 L616.80 281.71 L617.40 281.75 L618.00 281.78 L618.60 281.82 L619.20 281.86 L619.80 281.90" stroke="#ed7d31"/>
</g>
<g class="s" style="font-size:15.9px"><text transform="translate(57.0,327.60) scale(1.03,1)" text-anchor="end">0</text><text transform="translate(57.0,264.46) scale(1.03,1)" text-anchor="end">1000</text><text transform="translate(57.0,201.32) scale(1.03,1)" text-anchor="end">2000</text><text transform="translate(57.0,138.18) scale(1.03,1)" text-anchor="end">3000</text><text transform="translate(57.0,75.04) scale(1.03,1)" text-anchor="end">4000</text><text transform="translate(57.0,11.90) scale(1.03,1)" text-anchor="end">5000</text><text transform="translate(635.2,327.60) scale(1.03,1)">0</text><text transform="translate(635.2,274.98) scale(1.03,1)">10</text><text transform="translate(635.2,222.37) scale(1.03,1)">20</text><text transform="translate(635.2,169.75) scale(1.03,1)">30</text><text transform="translate(635.2,117.13) scale(1.03,1)">40</text><text transform="translate(635.2,64.52) scale(1.03,1)">50</text><text transform="translate(635.2,11.90) scale(1.03,1)">60</text><text transform="translate(73.10,350.6) scale(1.03,1)" text-anchor="middle">0</text><text transform="translate(164.03,350.6) scale(1.03,1)" text-anchor="middle">0.5</text><text transform="translate(254.97,350.6) scale(1.03,1)" text-anchor="middle">1</text><text transform="translate(345.90,350.6) scale(1.03,1)" text-anchor="middle">1.5</text><text transform="translate(436.83,350.6) scale(1.03,1)" text-anchor="middle">2</text><text transform="translate(527.77,350.6) scale(1.03,1)" text-anchor="middle">2.5</text><text transform="translate(618.70,350.6) scale(1.03,1)" text-anchor="middle">3</text></g>
<line x1="357" y1="147.1" x2="395" y2="147.1" stroke="#5b9bd5" stroke-width="5.8" stroke-linecap="round"/>
<line x1="357" y1="180.1" x2="395" y2="180.1" stroke="#ed7d31" stroke-width="5.8" stroke-linecap="round"/>
<text class="s" x="399.5" y="152">Differential pressure</text>
<text class="s" x="399.5" y="185">Permeability</text>
<text class="t" font-size="21" x="255.4" y="380">Injected volume (PV)</text>
<text class="t" font-size="21.75" transform="translate(15.7,273.8) rotate(-90)">Differential pressure (psi)</text>
<text class="t" font-size="21.75" transform="translate(679.6,269.9) rotate(-90)">Plug Permeability (md)</text>
</svg>
</body></html>
